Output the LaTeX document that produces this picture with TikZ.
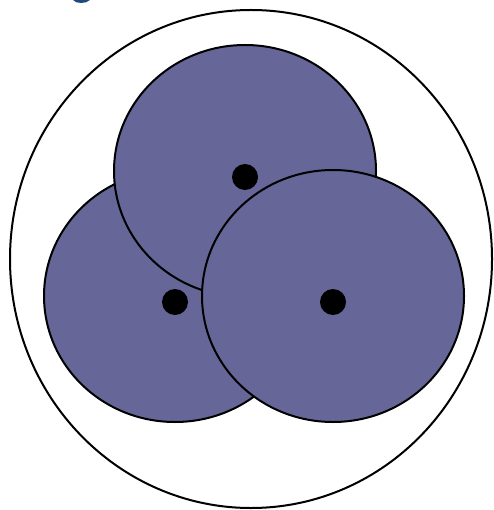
\documentclass[tikz,border=0pt]{standalone}
\usepackage{tikz}
\usetikzlibrary{shapes.geometric}
\definecolor{cellblue}{RGB}{102,102,153}
\definecolor{titleblue}{RGB}{31,73,125}
\begin{document}
\begin{tikzpicture}[
        x=1pt, y=-1pt,
        shell/.style={ellipse, draw, line width=2pt, inner sep=0pt, minimum width=482pt, minimum height=498pt},
        cell/.style={ellipse, draw, line width=2pt, fill=cellblue, inner sep=0pt, minimum width=262pt, minimum height=252pt},
        nucleus/.style={circle, fill=black, inner sep=0pt, minimum size=26pt}
    ]
    \useasboundingbox (0,0) rectangle (493,510);
%
    % cut-off title glyph
    \fill[titleblue] (73,0) .. controls (76,4) and (86,4) .. (90,0) -- cycle;
%
    % Nodes
    \node[shell] (outer) at (251,259) {};
    \node[cell] (left) at (175,296) {};
    \node[cell] (top) at (245,171) {};
    \node[cell] (right) at (333,296) {};
%
    \node[nucleus] (dotleft) at (175,302) {};
    \node[nucleus] (dottop) at (245,177) {};
    \node[nucleus] (dotright) at (333,302) {};
%
\end{tikzpicture}
\end{document}
